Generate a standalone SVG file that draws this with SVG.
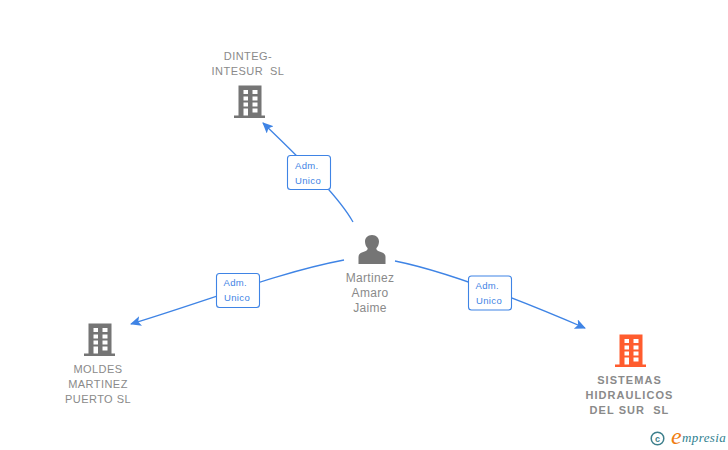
<svg xmlns="http://www.w3.org/2000/svg" width="728" height="450" viewBox="0 0 728 450">
<style>
.l{font-family:"Liberation Sans",sans-serif;font-size:11px;fill:#8a8a8a;text-anchor:middle;letter-spacing:.45px}
.b{font-family:"Liberation Sans",sans-serif;font-size:11px;font-weight:bold;fill:#8a8a8a;text-anchor:middle;letter-spacing:1.05px}
.p{font-family:"Liberation Sans",sans-serif;font-size:12px;fill:#8a8a8a;text-anchor:middle;letter-spacing:.3px}
.e{fill:none;stroke:#3f84e5;stroke-width:1.3}
.t{font-family:"Liberation Sans",sans-serif;font-size:9.500px;fill:#3f84e5;letter-spacing:.35px}
.r{fill:#fff;stroke:#3f84e5;stroke-width:1.1}
.w{fill:#fff}
</style>
<defs>
<marker id="a" markerUnits="userSpaceOnUse" markerWidth="12" markerHeight="12" refX="10" refY="5" orient="auto"><path d="M0 0L11 5L0 10L2.500 5Z" fill="#3f84e5"/></marker>
<g id="bld">
<path d="M-11.500-16.500h23v30h3.500v2.500h-31v-2.500h4.500z"/>
<path class="w" d="M-6.500-12h4.500v4h-4.500zM2.500-12h5v4h-5zM-6.500-5.500h4.500v4h-4.500zM2.500-5.500h5v4h-5zM-6.500 .5h4.500v4h-4.500zM2.500 .5h5v4h-5zM-6.500 6.500h4.500v7h-4.500zM2.500 6.500h5v4h-5z"/>
</g>
</defs>
<g id="connectors">
<path class="e" marker-end="url(#a)" d="M353 222C340 199 310 168 263 123"/>
<path class="e" marker-end="url(#a)" d="M344 260C280 272 210 300 131 324"/>
<path class="e" marker-end="url(#a)" d="M395 261C450 272 520 300 585 328"/>
</g>
<g id="label-1"><rect class="r" x="287.500" y="155.500" width="43" height="34" rx="3"/><text class="t" x="295" y="169">Adm.</text><text class="t" x="295" y="184">Unico</text></g>
<g id="label-2"><rect class="r" x="216.500" y="273.500" width="43" height="34" rx="3"/><text class="t" x="223.500" y="286">Adm.</text><text class="t" x="224" y="301">Unico</text></g>
<g id="label-3"><rect class="r" x="468.500" y="276" width="43" height="34" rx="3"/><text class="t" x="475.500" y="289">Adm.</text><text class="t" x="476" y="304">Unico</text></g>
<g id="node-dinteg">
<text class="l" x="248" y="60">DINTEG-</text><text class="l" x="248" y="75" xml:space="preserve">INTESUR  SL</text>
<use href="#bld" x="250" y="102" fill="#757575"/>
</g>
<g id="node-person">
<path fill="#757575" d="M358.500 264v-7c0-3.500 3-4.500 6-5.500 2.500-1 3.500-2 3-3.500-1.500-1.500-2.500-4-2.500-6.500 0-3.500 2.500-6.500 7-6.500s7 3 7 6.500c0 2.500-1 5-2.500 6.500-.5 1.500.5 2.500 3 3.500 3 1 6 2 6 5.500v7z"/>
<text class="p" x="370" y="282">Martinez</text><text class="p" x="370" y="297">Amaro</text><text class="p" x="370" y="312">Jaime</text>
</g>
<g id="node-moldes">
<use href="#bld" x="100" y="340" fill="#757575"/>
<text class="l" x="98" y="373">MOLDES</text><text class="l" x="98" y="388">MARTINEZ</text><text class="l" x="98" y="403">PUERTO SL</text>
</g>
<g id="node-sistemas">
<use href="#bld" x="631" y="351" fill="#ff5c2e"/>
<text class="b" x="629.500" y="383.500">SISTEMAS</text><text class="b" x="629.500" y="398.500">HIDRAULICOS</text><text class="b" x="629.500" y="413.500" xml:space="preserve">DEL SUR  SL</text>
</g>
<g id="logo">
<circle cx="657.500" cy="438.500" r="6.300" fill="none" stroke="#3d7f8c" stroke-width="1.500"/>
<text x="657.500" y="441.500" font-family="Liberation Sans, sans-serif" font-size="9" font-weight="bold" fill="#3d7f8c" text-anchor="middle">c</text>
<text x="671" y="444" font-family="Liberation Serif, serif" font-style="italic" font-size="24" fill="#f07d10">e</text>
<text x="682" y="442" font-family="Liberation Serif, serif" font-style="italic" font-size="13" fill="#2f7f8f" letter-spacing=".4">mpresia</text>
</g>
</svg>
